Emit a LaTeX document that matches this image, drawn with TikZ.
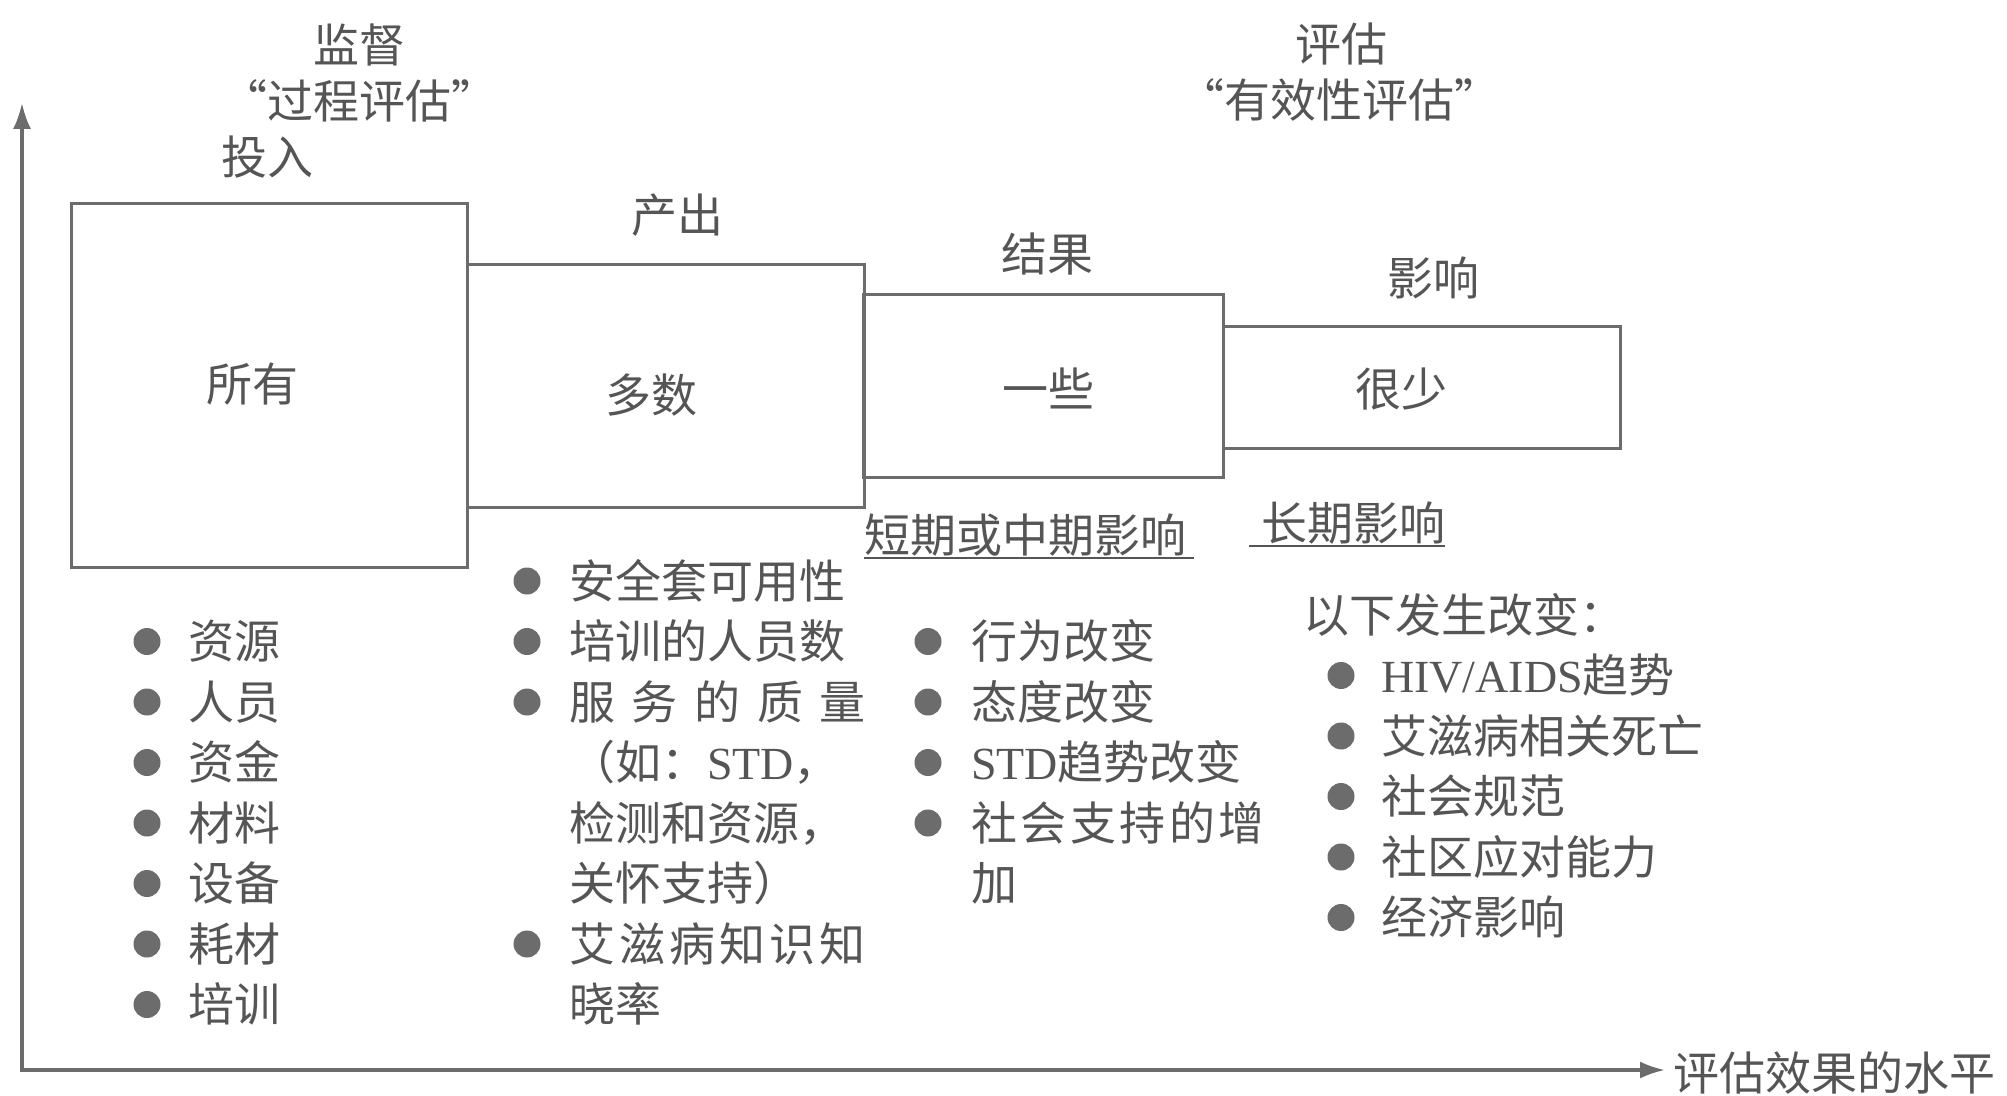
\documentclass[tikz,border=0pt]{standalone}
\usepackage{fontspec}
\setmainfont{Liberation Serif}
\newfontfamily\cjkf{Noto Sans CJK SC}
\usetikzlibrary{arrows.meta}
\definecolor{tgray}{HTML}{555555}
\definecolor{lgray}{HTML}{6C6C6C}
\newcommand\lat[1]{{\rmfamily #1}}
\begin{document}
\begin{tikzpicture}[x=0.5pt,y=-0.5pt,
  txt/.style={font=\cjkf\fontsize{23}{27}\selectfont, text=tgray, inner sep=0pt, outer sep=0pt, text height=20.2pt, text depth=2.8pt},
  lt/.style={txt, anchor=west},
  box/.style={draw=lgray, line width=1.5pt, inner sep=0pt},
  dot/.style={circle, fill=lgray, inner sep=0pt, minimum size=13.5pt},
  axis/.style={draw=lgray, line width=1.6pt},
  uline/.style={draw=tgray, line width=1.3pt}]
\useasboundingbox (0,0) rectangle (2007,1096);

% boxes
\node[box, minimum width=198pt, minimum height=181.5pt] (b1) at (269,385.5) {};
\node[box, minimum width=198.5pt, minimum height=121pt] (b2) at (665.5,386) {};
\node[box, minimum width=180pt, minimum height=91pt] (b3) at (1043,386) {};
\node[box, minimum width=198.5pt, minimum height=60.5pt] (b4) at (1421.5,387.5) {};

\node[txt] (l1) at (252,384) {所有};
\node[txt] (l2) at (651,395) {多数};
\node[txt] (l3) at (1048,389) {一些};
\node[txt] (l4) at (1401,389) {很少};

% headers
\node[txt] (h1) at (359,45) {监督};
\node[txt] (h2) at (359,101) {“过程评估”};
\node[txt] (h3) at (267,157) {投入};
\node[txt] (h4) at (1341,44) {评估};
\node[txt] (h5) at (1339,100) {“有效性评估”};
\node[txt] (c2) at (677,215) {产出};
\node[txt] (c3) at (1047,254) {结果};
\node[txt] (c4) at (1433,278) {影响};

% axes
\coordinate (o) at (22,1070);
\coordinate (yt) at (22,103);
\coordinate (xt) at (1665,1070);
\draw[axis, {Latex[length=13pt,width=9pt]}-{Latex[length=12.5pt,width=8.5pt]}] (yt) -- (o) -- (xt);
\node[lt] (xl) at (1673,1073) {评估效果的水平};

% column 1
\foreach \t [count=\i] in {资源,人员,资金,材料,设备,耗材,培训} {
  \node[dot] (ia\i) at (147,581+60.5*\i) {};
  \node[lt] (it\i) at (188,581+60.5*\i) {\t};
}

% column 2
\node[dot] (oa0) at (527,581) {};
\node[lt] (ot0) at (569,581) {安全套可用性};
\node[dot] (oa1) at (527,641.5) {};
\node[lt] (ot1) at (569,641.5) {培训的人员数};
\node[dot] (oa2) at (527,702) {};
\node[lt] (ot2) at (569,702) {\hbox to 148.5pt{服\hfil 务\hfil 的\hfil 质\hfil 量}};
\node[lt] (ot3) at (569,762.5) {（如：\lat{STD}，};
\node[lt] (ot4) at (569,823) {检测和资源，};
\node[lt] (ot5) at (569,883.5) {关怀支持）};
\node[dot] (oa6) at (527,944) {};
\node[lt] (ot6) at (569,944) {\hbox to 148.5pt{艾\hfil 滋\hfil 病\hfil 知\hfil 识\hfil 知}};
\node[lt] (ot7) at (569,1004.5) {晓率};

% column 3
\node[lt] (st) at (864,535) {短期或中期影响};
\draw[uline] (st.south west) -- ([xshift=4pt]st.south east);
\node[dot] (ra1) at (928,641.5) {};
\node[lt] (rt1) at (971,641.5) {行为改变};
\node[dot] (ra2) at (928,702) {};
\node[lt] (rt2) at (971,702) {态度改变};
\node[dot] (ra3) at (928,762.5) {};
\node[lt] (rt3) at (971,762.5) {\lat{STD}趋势改变};
\node[dot] (ra4) at (928,823) {};
\node[lt] (rt4) at (971,823) {\hbox to 147pt{社\hfil 会\hfil 支\hfil 持\hfil 的\hfil 增}};
\node[lt] (rt5) at (971,883.5) {加};

% column 4
\node[lt] (lg) at (1261,523) {长期影响};
\draw[uline] ([xshift=-6pt]lg.south west) -- (lg.south east);
\node[lt] (fl) at (1303,615) {以下发生改变：};
\foreach \t [count=\i] in {\lat{HIV/AIDS}趋势,艾滋病相关死亡,社会规范,社区应对能力,经济影响} {
  \node[dot] (fa\i) at (1341,615+60.5*\i) {};
  \node[lt] (ft\i) at (1381,615+60.5*\i) {\t};
}
\end{tikzpicture}
\end{document}
